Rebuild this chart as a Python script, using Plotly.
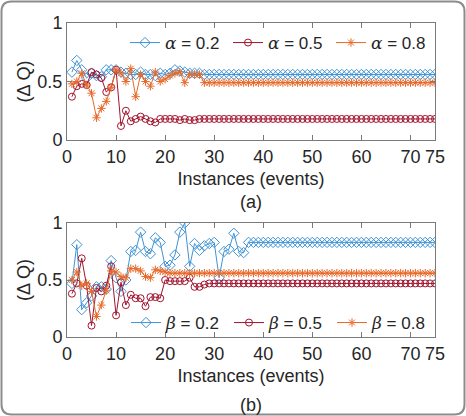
import plotly.graph_objects as go

instances = list(range(1, 76))

a_02 = [0.58, 0.68, 0.60, 0.53, 0.57, 0.55, 0.54, 0.60, 0.60, 0.60,
        0.58, 0.57, 0.56, 0.56, 0.58, 0.56, 0.56, 0.55, 0.57, 0.56,
        0.57, 0.60, 0.59, 0.58, 0.57, 0.57, 0.57, 0.56, 0.56, 0.56,
        0.56, 0.56, 0.56, 0.56, 0.56, 0.56, 0.56, 0.56, 0.56, 0.56,
        0.56, 0.56, 0.56, 0.56, 0.56, 0.56, 0.56, 0.56, 0.56, 0.56,
        0.56, 0.56, 0.56, 0.56, 0.56, 0.56, 0.56, 0.56, 0.56, 0.56,
        0.56, 0.56, 0.56, 0.56, 0.56, 0.56, 0.56, 0.56, 0.56, 0.56,
        0.56, 0.56, 0.56, 0.56, 0.56]
a_05 = [0.37, 0.46, 0.48, 0.47, 0.58, 0.56, 0.53, 0.41, 0.45, 0.60,
        0.12, 0.25, 0.16, 0.18, 0.20, 0.18, 0.16, 0.15, 0.18, 0.18,
        0.18, 0.18, 0.17, 0.18, 0.17, 0.17, 0.18, 0.18, 0.18, 0.18,
        0.18, 0.18, 0.18, 0.18, 0.18, 0.18, 0.18, 0.18, 0.18, 0.18,
        0.18, 0.18, 0.18, 0.18, 0.18, 0.18, 0.18, 0.18, 0.18, 0.18,
        0.18, 0.18, 0.18, 0.18, 0.18, 0.18, 0.18, 0.18, 0.18, 0.18,
        0.18, 0.18, 0.18, 0.18, 0.18, 0.18, 0.18, 0.18, 0.18, 0.18,
        0.18, 0.18, 0.18, 0.18, 0.18]
a_08 = [0.48, 0.50, 0.57, 0.47, 0.40, 0.19, 0.27, 0.33, 0.45, 0.60,
        0.57, 0.50, 0.61, 0.37, 0.56, 0.50, 0.46, 0.58, 0.50, 0.52,
        0.55, 0.57, 0.58, 0.49, 0.56, 0.56, 0.56, 0.49, 0.49, 0.49,
        0.49, 0.49, 0.49, 0.49, 0.49, 0.49, 0.49, 0.49, 0.49, 0.49,
        0.49, 0.49, 0.49, 0.49, 0.49, 0.49, 0.49, 0.49, 0.49, 0.49,
        0.49, 0.49, 0.49, 0.49, 0.49, 0.49, 0.49, 0.49, 0.49, 0.49,
        0.49, 0.49, 0.49, 0.49, 0.49, 0.49, 0.49, 0.49, 0.49, 0.49,
        0.49, 0.49, 0.49, 0.49, 0.49]

b_02 = [0.47, 0.81, 0.24, 0.30, 0.36, 0.44, 0.44, 0.42, 0.67, 0.52,
        0.40, 0.50, 0.75, 0.76, 0.92, 0.75, 0.73, 0.87, 0.83, 0.62,
        0.63, 0.72, 0.92, 1.00, 0.62, 0.82, 0.76, 0.80, 0.82, 0.83,
        0.52, 0.75, 0.77, 0.91, 0.75, 0.74, 0.83, 0.83, 0.83, 0.83,
        0.83, 0.83, 0.83, 0.83, 0.83, 0.83, 0.83, 0.83, 0.83, 0.83,
        0.83, 0.83, 0.83, 0.83, 0.83, 0.83, 0.83, 0.83, 0.83, 0.83,
        0.83, 0.83, 0.83, 0.83, 0.83, 0.83, 0.83, 0.83, 0.83, 0.83,
        0.83, 0.83, 0.83, 0.83, 0.83]
b_05 = [0.38, 0.47, 0.69, 0.45, 0.10, 0.43, 0.40, 0.45, 0.62, 0.19,
        0.48, 0.28, 0.37, 0.34, 0.34, 0.27, 0.35, 0.35, 0.34, 0.50,
        0.49, 0.49, 0.49, 0.49, 0.52, 0.44, 0.44, 0.46, 0.47, 0.47,
        0.47, 0.47, 0.47, 0.47, 0.47, 0.47, 0.47, 0.47, 0.47, 0.47,
        0.47, 0.47, 0.47, 0.47, 0.47, 0.47, 0.47, 0.47, 0.47, 0.47,
        0.47, 0.47, 0.47, 0.47, 0.47, 0.47, 0.47, 0.47, 0.47, 0.47,
        0.47, 0.47, 0.47, 0.47, 0.47, 0.47, 0.47, 0.47, 0.47, 0.47,
        0.47, 0.47, 0.47, 0.47, 0.47]
b_08 = [0.50, 0.57, 0.45, 0.47, 0.40, 0.18, 0.28, 0.41, 0.58, 0.57,
        0.53, 0.52, 0.60, 0.60, 0.58, 0.53, 0.52, 0.59, 0.58, 0.57,
        0.56, 0.56, 0.56, 0.56, 0.56, 0.56, 0.56, 0.56, 0.56, 0.56,
        0.56, 0.56, 0.56, 0.56, 0.56, 0.56, 0.56, 0.56, 0.56, 0.56,
        0.56, 0.56, 0.56, 0.56, 0.56, 0.56, 0.56, 0.56, 0.56, 0.56,
        0.56, 0.56, 0.56, 0.56, 0.56, 0.56, 0.56, 0.56, 0.56, 0.56,
        0.56, 0.56, 0.56, 0.56, 0.56, 0.56, 0.56, 0.56, 0.56, 0.56,
        0.56, 0.56, 0.56, 0.56, 0.56]

x_tickvals = [0, 10, 20, 30, 40, 50, 60, 70, 75]
y_tickvals = [0, 0.5, 1]

BLUE = "#3f93d4"
RED = "#a2142f"
ORANGE = "#e8692a"
FONT = "Liberation Sans, Arial, sans-serif"
GREEK = "<span style=\"font-family:'DejaVu Serif'\"><i>%s</i></span> = %s"

W, H = 466, 416
ML, MR, MT, MB = 67, 31, 23, 79
PW, PH = W - ML - MR, H - MT - MB


def px2x(px):
    return (px - ML) / PW


def py2y(py):
    return (H - MB - py) / PH


fig = go.Figure()

series = [
    (a_02, "0.2", BLUE, "diamond-open", 8, "x", "y", "legend"),
    (a_05, "0.5", RED, "circle-open", 7, "x", "y", "legend"),
    (a_08, "0.8", ORANGE, "asterisk-open", 7, "x", "y", "legend"),
    (b_02, "0.2", BLUE, "diamond-open", 8, "x2", "y2", "legend2"),
    (b_05, "0.5", RED, "circle-open", 7, "x2", "y2", "legend2"),
    (b_08, "0.8", ORANGE, "asterisk-open", 7, "x2", "y2", "legend2"),
]
for vals, lab, col, sym, sz, xa, ya, lg in series:
    greek = "α" if lg == "legend" else "β"
    fig.add_trace(go.Scatter(
        x=instances, y=vals, mode="lines+markers",
        name=GREEK % (greek, lab),
        line=dict(color=col, width=1),
        marker=dict(symbol=sym, size=sz, color=col, line=dict(color=col, width=1)),
        xaxis=xa, yaxis=ya, legend=lg,
    ))

top_dom = [py2y(140), 1.0]
bot_dom = [0.0, py2y(223)]

axis_common = dict(
    showline=True, linecolor="#7a7a7a", linewidth=1, mirror="ticks",
    ticks="inside", ticklen=5, tickcolor="#7a7a7a", showgrid=False,
    zeroline=False, tickfont=dict(family=FONT, size=18, color="#262626"),
)
title_font = dict(family=FONT, size=18, color="#262626")

fig.update_layout(
    width=W, height=H,
    margin=dict(l=ML, r=MR, t=MT, b=MB),
    paper_bgcolor="white", plot_bgcolor="white",
    font=dict(family=FONT, color="#262626"),
    xaxis=dict(domain=[0, 1], range=[0, 75], tickvals=x_tickvals, anchor="y",
               title=dict(text="Instances (events)", font=title_font, standoff=6),
               **axis_common),
    yaxis=dict(domain=top_dom, range=[0, 1], tickvals=y_tickvals, anchor="x",
               ticktext=["0", "0.5", "1"],
               title=dict(text="(Δ Q)", font=title_font, standoff=2),
               **axis_common),
    xaxis2=dict(domain=[0, 1], range=[0, 75], tickvals=x_tickvals, anchor="y2",
                title=dict(text="Instances (events)", font=title_font, standoff=6),
                **axis_common),
    yaxis2=dict(domain=bot_dom, range=[0, 1], tickvals=y_tickvals, anchor="x2",
                ticktext=["0", "0.5", "1"],
                title=dict(text="(Δ Q)", font=title_font, standoff=2),
                **axis_common),
    legend=dict(orientation="h", x=px2x(434), xanchor="right", y=py2y(43),
                yanchor="middle", bgcolor="rgba(0,0,0,0)",
                font=dict(family=FONT, size=17, color="#262626"),
                itemwidth=30, entrywidth=58, entrywidthmode="pixels",
                tracegroupgap=0),
    legend2=dict(orientation="h", x=1.0, xanchor="right", y=py2y(323),
                 yanchor="middle", bgcolor="rgba(0,0,0,0)",
                 font=dict(family=FONT, size=17, color="#262626"),
                 itemwidth=30, entrywidth=58, entrywidthmode="pixels",
                 tracegroupgap=0),
    showlegend=True,
)

fig.add_annotation(text="(a)", x=0.5, y=py2y(202), xref="paper", yref="paper",
                   showarrow=False, font=dict(family=FONT, size=18, color="#262626"),
                   yanchor="middle")
fig.add_annotation(text="(b)", x=0.5, y=py2y(405), xref="paper", yref="paper",
                   showarrow=False, font=dict(family=FONT, size=18, color="#262626"),
                   yanchor="middle")

# rounded outer border
x0, x1, y0, y1, r = 1.5, W - 1.5, 1.5, H - 1.5, 10
pts = [
    ("M", x0 + r, y0), ("L", x1 - r, y0), ("Q", x1, y0, x1, y0 + r),
    ("L", x1, y1 - r), ("Q", x1, y1, x1 - r, y1), ("L", x0 + r, y1),
    ("Q", x0, y1, x0, y1 - r), ("L", x0, y0 + r), ("Q", x0, y0, x0 + r, y0),
]
path = ""
for p in pts:
    if p[0] == "Q":
        path += "Q %.5f,%.5f %.5f,%.5f " % (px2x(p[1]), py2y(p[2]), px2x(p[3]), py2y(p[4]))
    else:
        path += "%s %.5f,%.5f " % (p[0], px2x(p[1]), py2y(p[2]))
path += "Z"
fig.add_shape(type="path", path=path, xref="paper", yref="paper",
              line=dict(color="#8c8c8c", width=2), layer="above")

fig.write_html("out.html")
